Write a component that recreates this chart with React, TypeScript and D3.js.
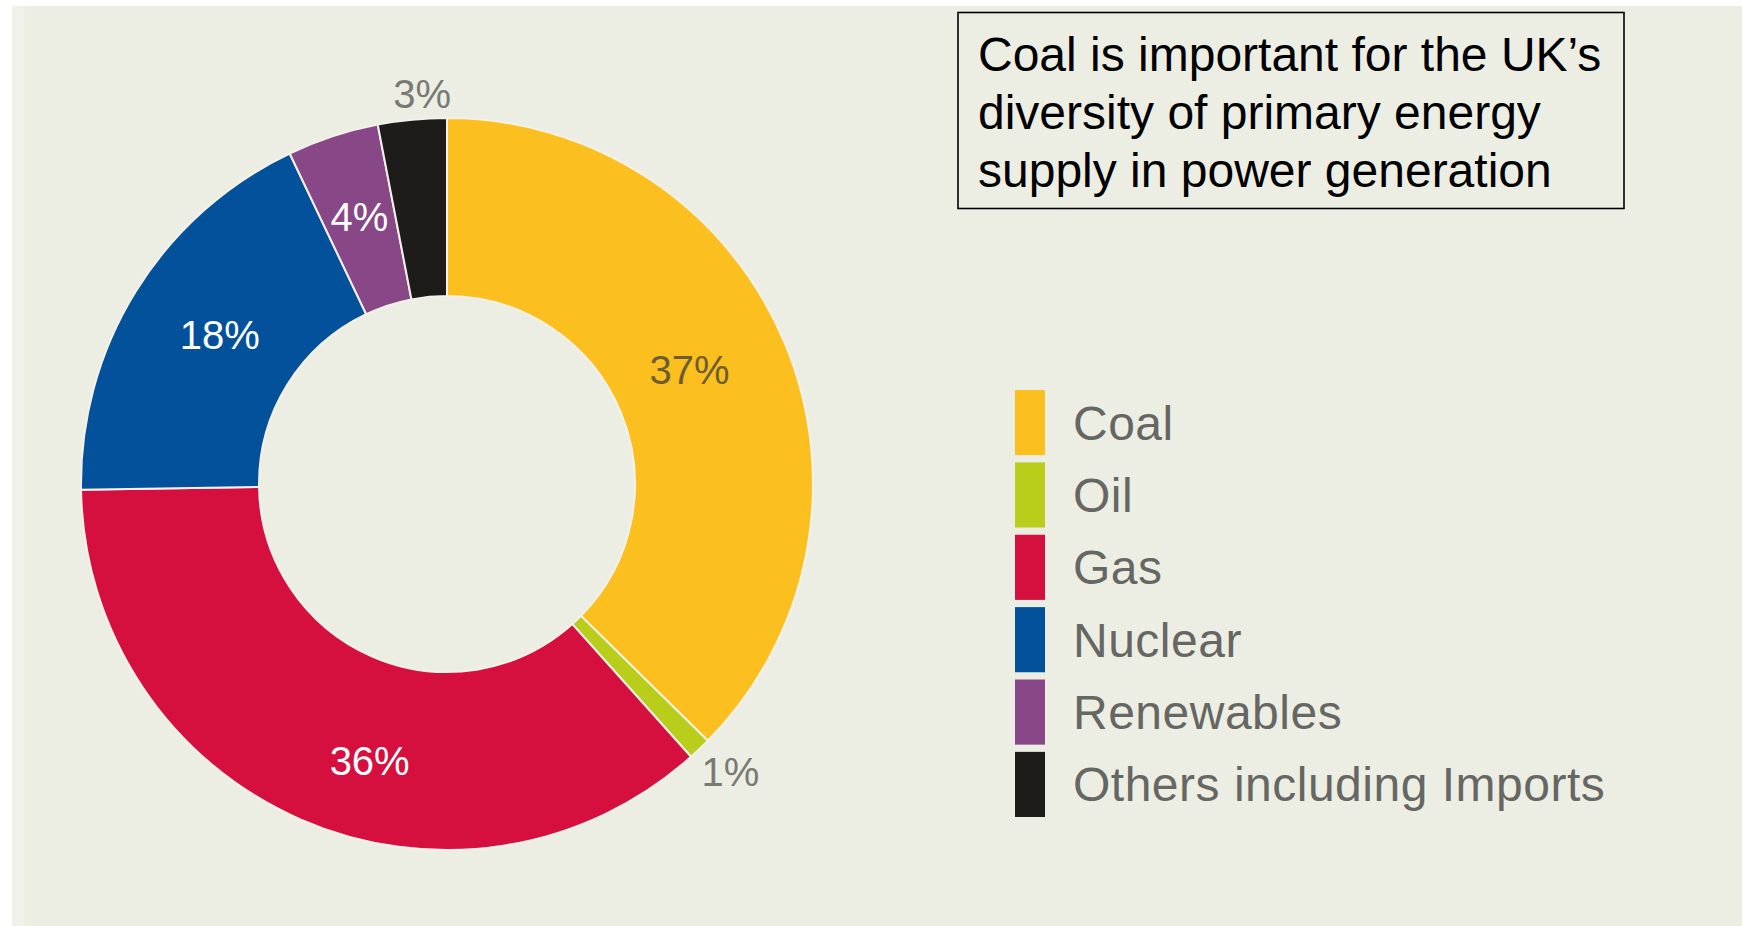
import React from "react";
import * as d3 from "d3";

const categories = ["Coal", "Oil", "Gas", "Nuclear", "Renewables", "Others including Imports"];
const shares = [37, 1, 36, 18, 4, 3];
const percentLabels = ["37%", "1%", "36%", "18%", "4%", "3%"];
const colors = ["#FBC020", "#B8CE1A", "#D5103E", "#03519A", "#884786", "#1E1B1B"];
const labelColors = ["#6E5D30", "#7A7A74", "#FFFFFF", "#FFFFFF", "#FFFFFF", "#7A7A74"];
const calloutLines = [
  "Coal is important for the UK\u2019s",
  "diversity of primary energy",
  "supply in power generation",
];

const W = 1742;
const H = 926;
const cx = 447;
const cy = 484;
const rOuter = 366;
const rInner = 188;
// label placement tweaks (layout only): angle nudge in degrees, radius in px
const labelPlace: Record<string, { da: number; r: number }> = {
  Coal: { da: -2.5, r: 268 },
  Oil: { da: -0.9, r: 404 },
  Gas: { da: -8, r: 287 },
  Nuclear: { da: 1.5, r: 272 },
  Renewables: { da: 0, r: 281 },
  "Others including Imports": { da: 1.8, r: 391 },
};

export default function App() {
  const data = categories.map((c, i) => ({ name: c, value: shares[i], i }));
  const pie = d3.pie<any>().sort(null).value((d) => d.value);
  const arcs = pie(data);
  const arc = d3.arc<any>().innerRadius(rInner).outerRadius(rOuter);
  const deg = Math.PI / 180;

  const legendY = d3
    .scaleBand<string>()
    .domain(categories)
    .range([390, 817])
    .paddingInner(0.1)
    .paddingOuter(0);

  const font = "'Liberation Sans', Arial, sans-serif";

  return (
    <svg
      width={W}
      height={H}
      style={{ position: "absolute", left: 0, top: 0, display: "block" }}
      fontFamily={font}
    >
      <rect x={0} y={0} width={W} height={H} fill="#FFFFFF" />
      <rect x={12} y={6} width={W - 12} height={H - 6} fill="#EDEEE3" />
      <rect x={12} y={6} width={13} height={H - 6} fill="#F1F1EA" />

      <g transform={`translate(${cx},${cy})`}>
        {arcs.map((a, k) => (
          <path
            key={k}
            d={arc(a) as string}
            fill={colors[a.data.i]}
            stroke="#F3F1E8"
            strokeWidth={2}
          />
        ))}
        {arcs.map((a, k) => {
          const i = a.data.i;
          const p = labelPlace[a.data.name];
          const mid = (a.startAngle + a.endAngle) / 2 + p.da * deg;
          const x = Math.sin(mid) * p.r;
          const y = -Math.cos(mid) * p.r;
          return (
            <text
              key={"l" + k}
              x={x}
              y={y}
              dy="0.36em"
              textAnchor="middle"
              fontSize={40}
              fill={labelColors[i]}
            >
              {percentLabels[i]}
            </text>
          );
        })}
      </g>

      <g>
        {categories.map((c, i) => {
          const y0 = legendY(c) as number;
          const h = legendY.bandwidth();
          return (
            <g key={c}>
              <rect x={1015} y={y0} width={30} height={h} fill={colors[i]} />
              <text
                x={1073}
                y={y0 + h / 2 + 17}
                fontSize={48}
                letterSpacing={0.5}
                fill="#666663"
              >
                {c}
              </text>
            </g>
          );
        })}
      </g>

      <rect x={958} y={12.5} width={666} height={196} fill="none" stroke="#000" strokeWidth={1.6} />
      {calloutLines.map((t, i) => (
        <text key={i} x={978} y={71 + i * 58} fontSize={48} fill="#000">
          {t}
        </text>
      ))}
    </svg>
  );
}
